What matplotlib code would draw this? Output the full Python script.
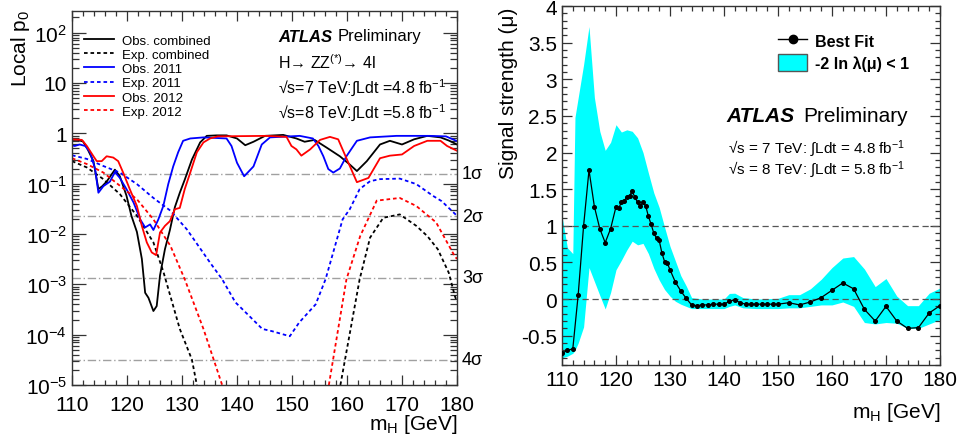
import matplotlib
matplotlib.use("Agg")
import matplotlib.pyplot as plt
from matplotlib.ticker import MultipleLocator, FixedLocator, LogLocator, NullFormatter, FormatStrFormatter
from matplotlib.lines import Line2D
from matplotlib.patches import Patch

plt.rcParams['font.family'] = ['Liberation Sans', 'DejaVu Sans']
plt.rcParams['mathtext.fontset'] = 'custom'
plt.rcParams['mathtext.rm'] = 'Liberation Sans'
plt.rcParams['mathtext.it'] = 'Liberation Sans:italic'
plt.rcParams['mathtext.bf'] = 'Liberation Sans:bold'

# ---------------- Left panel data: local p0 vs mH ----------------
obs_comb_m = [110, 111, 112, 112.7, 113.9, 114.8, 115.5, 116.3, 117.8, 118.7,
              119.9, 120.8, 121.8, 122.7, 123.3, 123.9, 124.8, 125.4, 126.0, 126.9,
              127.8, 128.7, 129.6, 130.5, 131.8, 133.3, 134.5, 136.3, 138.1, 140.0,
              141.5, 143.0, 145.1, 148.4, 150.8, 152.3, 154.1, 156.3, 158.7, 160.5,
              161.8, 163.6, 166.0, 167.8, 170.0, 172.2, 174.6, 177.0, 178.5, 180.0]
obs_comb_p = [0.74, 0.74, 0.69, 0.52, 0.28, 0.078, 0.089, 0.11, 0.19, 0.14,
              0.058, 0.023, 0.011, 3.2e-3, 6.8e-4, 5.4e-4, 2.95e-4, 3.7e-4, 1.5e-3, 5.0e-3,
              1.2e-2, 3.4e-2, 6.6e-2, 0.12, 0.30, 0.66, 0.89, 0.91, 0.91, 0.79,
              0.58, 0.68, 0.89, 0.93, 0.79, 0.68, 0.74, 0.52, 0.35, 0.24,
              0.178, 0.28, 0.60, 0.71, 0.60, 0.76, 0.89, 0.83, 0.72, 0.60]

obs12_m = [110, 111.8, 112.7, 113.9, 114.5, 115.4, 116.3, 117.5, 118.4, 119.3,
           120.5, 121.8, 122.7, 123.6, 124.5, 125.3, 126.0, 126.9, 127.8, 128.7,
           129.6, 130.5, 131.5, 132.7, 133.9, 135.1, 136.5, 145.4, 149.0, 149.9,
           150.8, 151.7, 153.3, 155.1, 156.9, 158.4, 160.0, 161.8, 163.9, 166.0,
           167.8, 170.0, 172.2, 174.6, 177.0, 178.2, 180.0]
obs12_p = [0.76, 0.74, 0.56, 0.35, 0.28, 0.28, 0.35, 0.33, 0.28, 0.166,
           0.078, 0.036, 0.0145, 0.0068, 0.0043, 0.0038, 0.0107, 0.0145, 0.018, 0.031,
           0.033, 0.078, 0.166, 0.42, 0.66, 0.79, 0.87, 0.89, 0.85, 0.56,
           0.48, 0.36, 0.48, 0.74, 0.85, 0.76, 0.30, 0.107, 0.13, 0.32,
           0.36, 0.38, 0.56, 0.71, 0.71, 0.56, 0.45]

obs11_m = [110, 110.5, 111.4, 112.4, 113.3, 114.2, 114.8, 115.7, 116.9, 117.8,
           118.7, 119.9, 121.2, 122.4, 123.3, 124.2, 124.8, 125.7, 126.6, 127.5,
           128.4, 129.3, 130.2, 131.5, 133.9, 138.1, 139.0, 140.0, 141.3, 143.0,
           144.5, 146.0, 151.4, 153.8, 154.8, 155.7, 156.6, 157.5, 158.7, 159.9,
           161.8, 164.2, 169.0, 175.0, 178.0, 180.0]
obs11_p = [0.575, 0.56, 0.60, 0.56, 0.42, 0.195, 0.066, 0.089, 0.11, 0.17,
           0.13, 0.078, 0.042, 0.0195, 0.0135, 0.0155, 0.012, 0.0195, 0.036, 0.098,
           0.22, 0.42, 0.71, 0.79, 0.83, 0.79, 0.56, 0.26, 0.14, 0.22,
           0.60, 0.83, 0.89, 0.79, 0.56, 0.35, 0.195, 0.166, 0.20, 0.35,
           0.71, 0.83, 0.89, 0.89, 0.87, 0.70]

exp_comb_m_low = [110, 112.7, 115.7, 118.7, 121.8, 124.8, 126.6, 129.6, 131.8, 132.7]
exp_comb_p_low = [0.28, 0.21, 0.123, 0.062, 0.023, 6.8e-3, 1.8e-3, 1.3e-4, 3.2e-5, 1e-5]
exp_comb_m_high = [158.8, 162.3, 164.2, 166.6, 169.6, 172.6, 174.6, 176.5, 178.5, 179.6, 180.0]
exp_comb_p_high = [1e-5, 1.26e-3, 8.5e-3, 0.021, 0.0245, 0.0145, 9.1e-3, 5.0e-3, 1.7e-3, 5.9e-4, 4.5e-4]

exp12_m_low = [110, 112.7, 115.7, 118.7, 121.8, 124.8, 127.9, 130.5, 133.9, 137.3]
exp12_p_low = [0.32, 0.245, 0.166, 0.091, 0.049, 0.0195, 5.8e-3, 1.26e-3, 1.3e-4, 1e-5]
exp12_m_high = [156.7, 159.9, 162.4, 165.4, 169.6, 172.6, 176.2, 179.6, 180.0]
exp12_p_high = [1e-5, 1.26e-3, 9.1e-3, 0.046, 0.052, 0.036, 0.017, 3.6e-3, 3.2e-3]

exp11_m = [110, 112.7, 115.7, 118.7, 121.8, 124.8, 127.9, 130.9, 135.1, 137.3,
           139.7, 141.6, 144.6, 146.4, 149.6, 151.3, 154.3, 156.1, 159.2, 160.5,
           162.3, 164.2, 166.0, 169.6, 172.6, 175.6, 177.2, 180.0]
exp11_p = [0.367, 0.31, 0.224, 0.166, 0.098, 0.052, 0.029, 0.0123, 2.7e-3, 1.26e-3,
           4.4e-4, 2.75e-4, 1.3e-4, 1.17e-4, 9.3e-5, 1.74e-4, 4.0e-4, 1.26e-3, 0.0195, 0.031,
           0.078, 0.112, 0.123, 0.126, 0.098, 0.0575, 0.045, 0.023]

sigma_labels = ['1σ', '2σ', '3σ', '4σ']
sigma_p = [0.1587, 0.02275, 0.00135, 3.17e-5]

# ---------------- Right panel data: signal strength ----------------
fit_m = [110, 111, 112, 113, 114, 115, 116, 117, 118, 119,
         120, 120.5, 121, 121.5, 122, 122.5, 123, 123.5, 124, 124.5,
         125, 125.5, 126, 126.5, 127, 127.5, 128, 128.5, 129, 129.5,
         130, 131, 132, 133, 134, 135, 136, 137, 138, 139,
         140, 141, 142, 143, 144, 145, 146, 147, 148, 149,
         150, 152, 154, 156, 158, 160, 162, 164, 166, 168,
         170, 172, 174, 176, 178, 180]
fit_mu = [-0.74, -0.70, -0.68, 0.06, 1.00, 1.76, 1.26, 0.96, 0.77, 0.96,
          1.26, 1.24, 1.32, 1.34, 1.39, 1.41, 1.47, 1.39, 1.32, 1.27,
          1.32, 1.27, 1.13, 1.02, 0.90, 0.83, 0.80, 0.63, 0.51, 0.49,
          0.40, 0.23, 0.11, 0.01, -0.08, -0.09, -0.08, -0.08, -0.07, -0.07,
          -0.07, -0.03, -0.01, -0.05, -0.07, -0.07, -0.07, -0.07, -0.07, -0.07,
          -0.07, -0.05, -0.08, -0.04, 0.02, 0.12, 0.22, 0.14, -0.14, -0.30,
          -0.10, -0.30, -0.40, -0.39, -0.19, -0.09]

band_m = [110, 111, 112, 112.4, 113, 114, 115, 116, 117, 118,
          119, 120, 121, 122, 123, 124, 125, 126, 127, 128,
          129, 130, 131, 132, 133, 134, 136, 138, 140, 141,
          142, 143.5, 146, 150, 152, 154, 156, 158, 160, 162,
          164, 166, 168, 170, 172, 174, 176, 178, 180]
band_hi = [1.13, 0.70, 0.62, 2.48, 2.75, 3.20, 3.72, 2.75, 2.29, 2.03,
           2.14, 2.38, 2.28, 2.31, 2.29, 2.20, 2.00, 1.72, 1.45, 1.25,
           0.98, 0.72, 0.52, 0.32, 0.18, 0.02, 0.00, 0.00, 0.00, 0.077,
           0.08, 0.02, 0.00, 0.01, 0.06, 0.06, 0.14, 0.27, 0.43, 0.56,
           0.58, 0.41, 0.17, 0.28, 0.04, -0.09, -0.09, 0.08, 0.15]
band_lo = [-0.80, -0.78, -0.74, -0.70, -0.60, -0.38, 0.43, 0.24, 0.05, -0.135,
           0.09, 0.40, 0.53, 0.67, 0.79, 0.74, 0.76, 0.62, 0.42, 0.26,
           0.13, 0.04, -0.03, -0.07, -0.10, -0.13, -0.13, -0.13, -0.13, -0.10,
           -0.08, -0.12, -0.13, -0.13, -0.12, -0.12, -0.10, -0.08, -0.08, -0.04,
           -0.10, -0.32, -0.34, -0.32, -0.33, -0.40, -0.40, -0.34, -0.28]

# ---------------- Figure ----------------
W, H = 959, 439
fig = plt.figure(figsize=(W / 100, H / 100), dpi=100)

def rect(x0, y0, x1, y1):
    return [x0 / W, 1 - y1 / H, (x1 - x0) / W, (y1 - y0) / H]

def fx(px):
    return px / W

def fy(py):
    return 1 - py / H

TICK_FS = 15

def style_axes(ax):
    ax.tick_params(which='both', direction='in', top=True, right=True,
                   labelsize=TICK_FS, width=0.9, color='#333333')
    ax.tick_params(which='major', length=7)
    ax.tick_params(which='minor', length=3.5)
    for s in ax.spines.values():
        s.set_linewidth(1.0)
        s.set_color('#333333')

# ---- Left panel ----
axL = fig.add_axes(rect(72, 12, 457, 386))
axL.set_yscale('log')
axL.set_xlim(110, 180)
axL.set_ylim(1e-5, 10 ** 2.43)

dot = (0, (2, 1.6))
lw = 1.3
axL.plot(obs_comb_m, obs_comb_p, color='black', lw=lw, label='Obs. combined')
axL.plot(exp_comb_m_low, exp_comb_p_low, color='black', lw=lw, ls=dot, label='Exp. combined')
axL.plot(exp_comb_m_high, exp_comb_p_high, color='black', lw=lw, ls=dot)
axL.plot(obs11_m, obs11_p, color='#0000ff', lw=lw, label='Obs. 2011')
axL.plot(exp11_m, exp11_p, color='#0000ff', lw=lw, ls=dot, label='Exp. 2011')
axL.plot(obs12_m, obs12_p, color='#ff0000', lw=lw, label='Obs. 2012')
axL.plot(exp12_m_low, exp12_p_low, color='#ff0000', lw=lw, ls=dot, label='Exp. 2012')
axL.plot(exp12_m_high, exp12_p_high, color='#ff0000', lw=lw, ls=dot)

for lab, p in zip(sigma_labels, sigma_p):
    axL.axhline(p, color='#a0a0a0', lw=1.0, ls=(0, (6, 2, 1, 2)), zorder=0)
    axL.text(1.013, p, lab, transform=axL.get_yaxis_transform(), fontsize=13,
             va='center', ha='left')

axL.xaxis.set_major_locator(MultipleLocator(10))
axL.xaxis.set_minor_locator(MultipleLocator(2))
axL.yaxis.set_major_locator(FixedLocator([1e-5, 1e-4, 1e-3, 1e-2, 1e-1, 1, 10, 100]))
axL.set_yticklabels(['$10^{-5}$', '$10^{-4}$', '$10^{-3}$', '$10^{-2}$', '$10^{-1}$', '1', '10', '$10^{2}$'])
axL.yaxis.set_minor_locator(LogLocator(base=10, subs=range(2, 10), numticks=20))
axL.yaxis.set_minor_formatter(NullFormatter())
style_axes(axL)
axL.tick_params(axis='y', which='major', length=10)
axL.tick_params(axis='y', which='minor', length=5)
axL.tick_params(axis='x', which='both', pad=7)

axL.legend(loc='upper left', bbox_to_anchor=(0.02, 0.948), frameon=False, fontsize=9.5,
           handlelength=2.3, handletextpad=0.6, labelspacing=0.15, borderaxespad=0.0,
           borderpad=0.3)

fig.text(fx(278), fy(37), 'ATLAS', fontsize=12, fontweight='bold', fontstyle='italic', va='center', ha='left')
fig.text(fx(338), fy(37), 'Preliminary', fontsize=12, va='center', ha='left')
fig.text(fx(278), fy(63), 'H→ ZZ$^{(*)}$→ 4l', fontsize=11.5, va='center', ha='left')
fig.text(fx(278), fy(88), '√s=7 TeV:∫Ldt =4.8 fb$^{-1}$', fontsize=11.5, va='center', ha='left')
fig.text(fx(278), fy(113), '√s=8 TeV:∫Ldt =5.8 fb$^{-1}$', fontsize=11.5, va='center', ha='left')

fig.text(fx(20), fy(10), r'Local p$_{0}$', fontsize=15, rotation=90, ha='center', va='top')
fig.text(fx(457), fy(425), r'm$_{\rm H}$ [GeV]', fontsize=15, ha='right', va='center')

# ---- Right panel ----
axR = fig.add_axes(rect(562, 7, 940, 366))
axR.set_xlim(110, 180)
axR.set_ylim(-0.9, 4.0)
axR.fill_between(band_m, band_lo, band_hi, color='#00ffff', lw=0, zorder=1)
axR.axhline(0, color='#555555', lw=0.9, ls=(0, (5, 3)), zorder=2)
axR.axhline(1, color='#555555', lw=0.9, ls=(0, (5, 3)), zorder=2)
axR.plot(fit_m, fit_mu, color='black', lw=0.9, marker='o', ms=2.6, zorder=3)

axR.xaxis.set_major_locator(MultipleLocator(10))
axR.xaxis.set_minor_locator(MultipleLocator(2))
axR.yaxis.set_major_locator(MultipleLocator(0.5))
axR.yaxis.set_minor_locator(MultipleLocator(0.1))
axR.yaxis.set_major_formatter(FormatStrFormatter('%g'))
style_axes(axR)

h_fit = Line2D([], [], color='black', lw=1.0, marker='o', ms=6)
h_band = Patch(facecolor='#00ffff', edgecolor='#555555', lw=1.0)
axR.legend([h_fit, h_band], ['Best Fit', '-2 ln λ(μ) < 1'], loc='upper left',
           bbox_to_anchor=(0.555, 0.945), frameon=False,
           prop={'weight': 'bold', 'size': 11.5}, handlelength=1.8, handleheight=1.2,
           handletextpad=0.5, labelspacing=0.35, borderaxespad=0.0)

fig.text(fx(726), fy(117), 'ATLAS', fontsize=15, fontweight='bold', fontstyle='italic', va='center', ha='left')
fig.text(fx(803), fy(117), 'Preliminary', fontsize=15, va='center', ha='left')
fig.text(fx(728), fy(149), '√s = 7 TeV: ∫Ldt = 4.8 fb$^{-1}$', fontsize=11, va='center', ha='left')
fig.text(fx(728), fy(170), '√s = 8 TeV: ∫Ldt = 5.8 fb$^{-1}$', fontsize=11, va='center', ha='left')

fig.text(fx(508), fy(8), r'Signal strength (μ)', fontsize=15, rotation=90, ha='center', va='top')
fig.text(fx(940), fy(413), r'm$_{\rm H}$ [GeV]', fontsize=15, ha='right', va='center')

fig.savefig('out.png', dpi=100)
